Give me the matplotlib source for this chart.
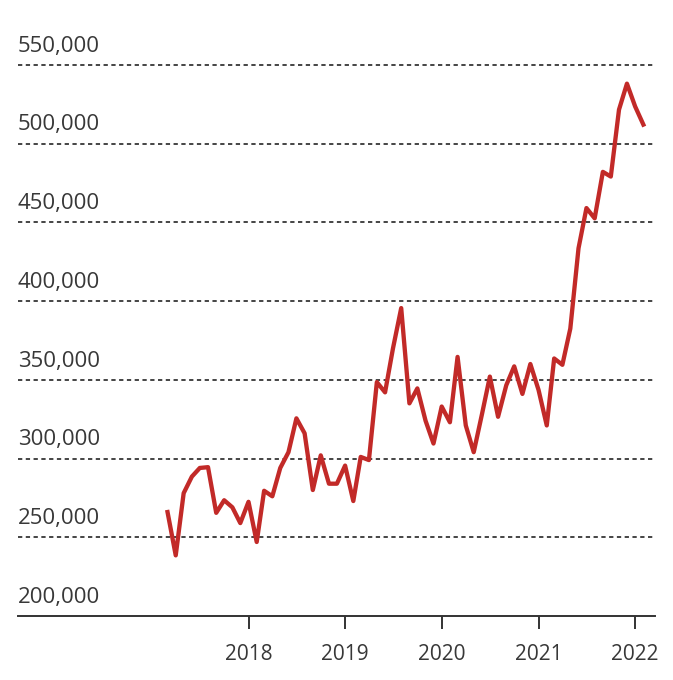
import numpy as np
import pandas as pd
import matplotlib
matplotlib.use("Agg")
import matplotlib.pyplot as plt
import matplotlib.dates as mdates
import matplotlib.transforms as mtransforms

# monthly values, March 2017 - February 2022
start_month = "2017-03-01"
values = [
    266000, 238500, 278000, 288500, 294000, 294500, 265500, 273500, 269000, 259000,
    272500, 247000, 279500, 276000, 294000, 304000, 325500, 316000, 280000, 302000,
    284000, 284000, 295500, 273000, 301000, 299000, 348500, 342000, 370000, 395500,
    335000, 344500, 324000, 309500, 333000, 323000, 364500, 321000, 304000, 328000,
    352000, 326500, 346500, 358500, 341000, 360000, 343500, 321000, 363500, 359500,
    382500, 433500, 459000, 452500, 482000, 479000, 521500, 538000, 523500, 512000,
]
y_ticks = [200000, 250000, 300000, 350000, 400000, 450000, 500000, 550000]
x_ticks = ["2018", "2019", "2020", "2021", "2022"]

dates = pd.date_range(start_month, periods=len(values), freq="MS")

plt.rcParams["font.family"] = ["Open Sans", "DejaVu Sans"]

fig = plt.figure(figsize=(6.73, 6.80), dpi=100)
ax = fig.add_axes([18 / 673, (680 - 616) / 680, (655 - 18) / 673, (616 - 49) / 680])

# dashed gridlines with labels sitting above them
for v in y_ticks[1:]:
    ax.axhline(v, color="#444444", lw=1.4, ls=(0, (2.2, 1.8)), zorder=1)
trans = mtransforms.blended_transform_factory(ax.transAxes, ax.transData)
for v in y_ticks:
    ax.annotate(f"{v:,}", xy=(0, v), xycoords=trans, xytext=(0, 9.5),
                textcoords="offset points", ha="left", va="baseline",
                fontsize=16, color="#383838", annotation_clip=False)

ax.plot(dates, values, color="#c22a28", lw=3.1, solid_joinstyle="round", zorder=3)

ax.set_ylim(200000, 560000)
ax.set_xlim(pd.Timestamp("2015-08-14"), pd.Timestamp("2022-03-17"))
ax.set_yticks([])
ax.set_xticks([pd.Timestamp(f"{y}-01-01") for y in x_ticks])
ax.set_xticklabels(x_ticks, fontsize=15, color="#383838")
ax.tick_params(axis="x", length=9, width=1.4, color="#333333", pad=11)

for s in ["top", "right", "left"]:
    ax.spines[s].set_visible(False)
ax.spines["bottom"].set_color("#333333")
ax.spines["bottom"].set_linewidth(1.4)

fig.savefig("out.png", dpi=100)
